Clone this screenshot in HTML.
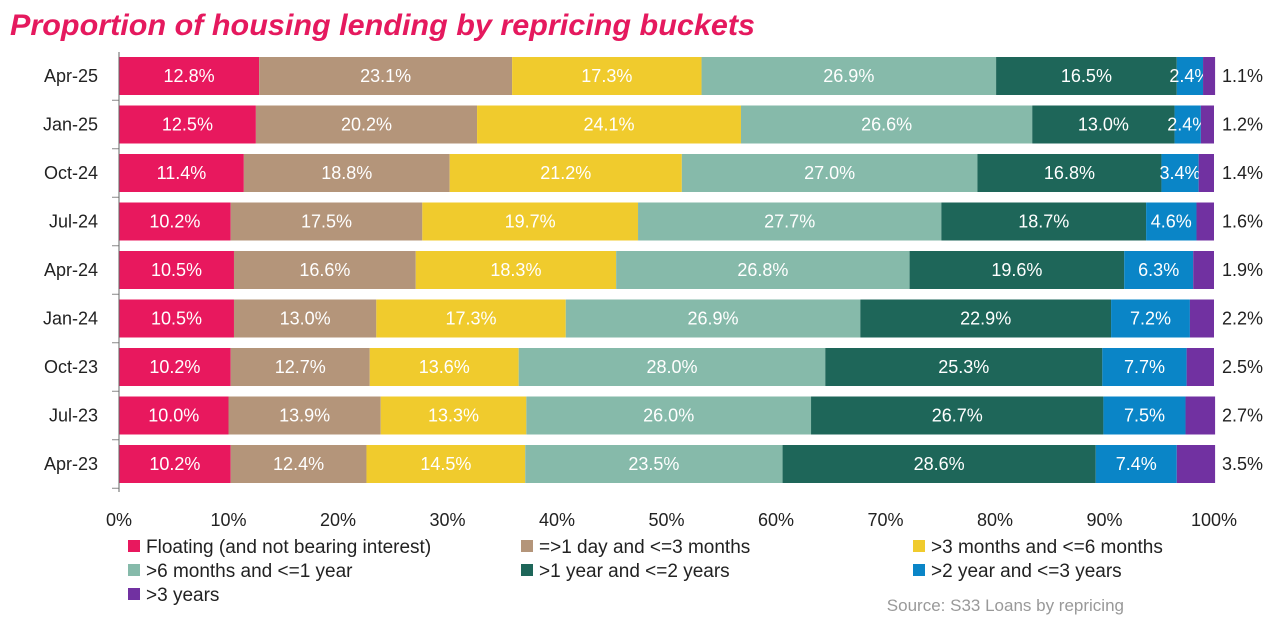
<!DOCTYPE html>
<html><head><meta charset="utf-8"><style>
body{margin:0;background:#fff;width:1280px;height:625px;overflow:hidden;font-family:"Liberation Sans",sans-serif}
</style></head><body>
<svg id="c" width="1280" height="625">
<text x="10" y="35" font-size="30" font-weight="bold" font-style="italic" fill="#E5195E" textLength="745" lengthAdjust="spacingAndGlyphs">Proportion of housing lending by repricing buckets</text>
</svg>
<script>
const categories=["Apr-25","Jan-25","Oct-24","Jul-24","Apr-24","Jan-24","Oct-23","Jul-23","Apr-23"];
const floating=[12.8,12.5,11.4,10.2,10.5,10.5,10.2,10.0,10.2];
const upTo3m=[23.1,20.2,18.8,17.5,16.6,13.0,12.7,13.9,12.4];
const upTo6m=[17.3,24.1,21.2,19.7,18.3,17.3,13.6,13.3,14.5];
const upTo1y=[26.9,26.6,27.0,27.7,26.8,26.9,28.0,26.0,23.5];
const upTo2y=[16.5,13.0,16.8,18.7,19.6,22.9,25.3,26.7,28.6];
const upTo3y=[2.4,2.4,3.4,4.6,6.3,7.2,7.7,7.5,7.4];
const over3y=[1.1,1.2,1.4,1.6,1.9,2.2,2.5,2.7,3.5];
const seriesNames=["Floating (and not bearing interest)","=>1 day and <=3 months",">3 months and <=6 months",">6 months and <=1 year",">1 year and <=2 years",">2 year and <=3 years",">3 years"];
const xTicks=[0,10,20,30,40,50,60,70,80,90,100];
const series=[floating,upTo3m,upTo6m,upTo1y,upTo2y,upTo3y,over3y];
const colors=["#E8185E","#B4957A","#F0CB2D","#86BAAA","#1E6659","#0A85C7","#7131A1"];
const NS="http://www.w3.org/2000/svg";
const svg=document.getElementById('c');
const x0=119,x1=1214;
const xs=v=>x0+(x1-x0)*v/100;
const yc=i=>76+i*48.5;
const bh=38;
function mk(t,a,p){const e=document.createElementNS(NS,t);for(const k in a)e.setAttribute(k,a[k]);(p||svg).appendChild(e);return e;}
categories.forEach((c,i)=>{
  let acc=0;
  series.forEach((s,j)=>{
    const v=s[i];
    const r=mk('rect',{x:xs(acc),y:yc(i)-bh/2,width:xs(acc+v)-xs(acc),height:bh,fill:colors[j]});
    
    
    if(j<6){
      const t=mk('text',{x:(xs(acc)+xs(acc+v))/2,y:yc(i)+6,'text-anchor':'middle','font-size':18,fill:'#fff'});
      t.textContent=v.toFixed(1)+'%';
      
      
    }else{
      const t=mk('text',{x:1222,y:yc(i)+6,'font-size':18,fill:'#222'});
      t.textContent=v.toFixed(1)+'%';
      
      
    }
    acc+=v;
  });
  const l=mk('text',{x:98,y:yc(i)+6,'text-anchor':'end','font-size':18,fill:'#222'});
  l.textContent=c;
  
  
  mk('line',{x1:112,x2:119,y1:yc(i)+24.25,y2:yc(i)+24.25,stroke:'#888'});
});
const ax=mk('line',{x1:119,x2:119,y1:52,y2:492,stroke:'#666'});


xTicks.forEach(v=>{
  const t=mk('text',{x:xs(v),y:526,'text-anchor':'middle','font-size':18,fill:'#222'});
  t.textContent=v+'%';
  
  
});
const lx=[128,521,913];
seriesNames.forEach((n,j)=>{
  const x=lx[j%3],y=553+Math.floor(j/3)*24;
  const g=mk('g',{});
  
  
  mk('rect',{x:x,y:y-13,width:12,height:12,fill:colors[j]},g);
  const t=mk('text',{x:x+18,y:y,'font-size':19,fill:'#222'},g);
  t.textContent=n;
});
const s=mk('text',{x:1124,y:611,'text-anchor':'end','font-size':17,fill:'#999'});
s.textContent='Source: S33 Loans by repricing';


</script>
</body></html>
